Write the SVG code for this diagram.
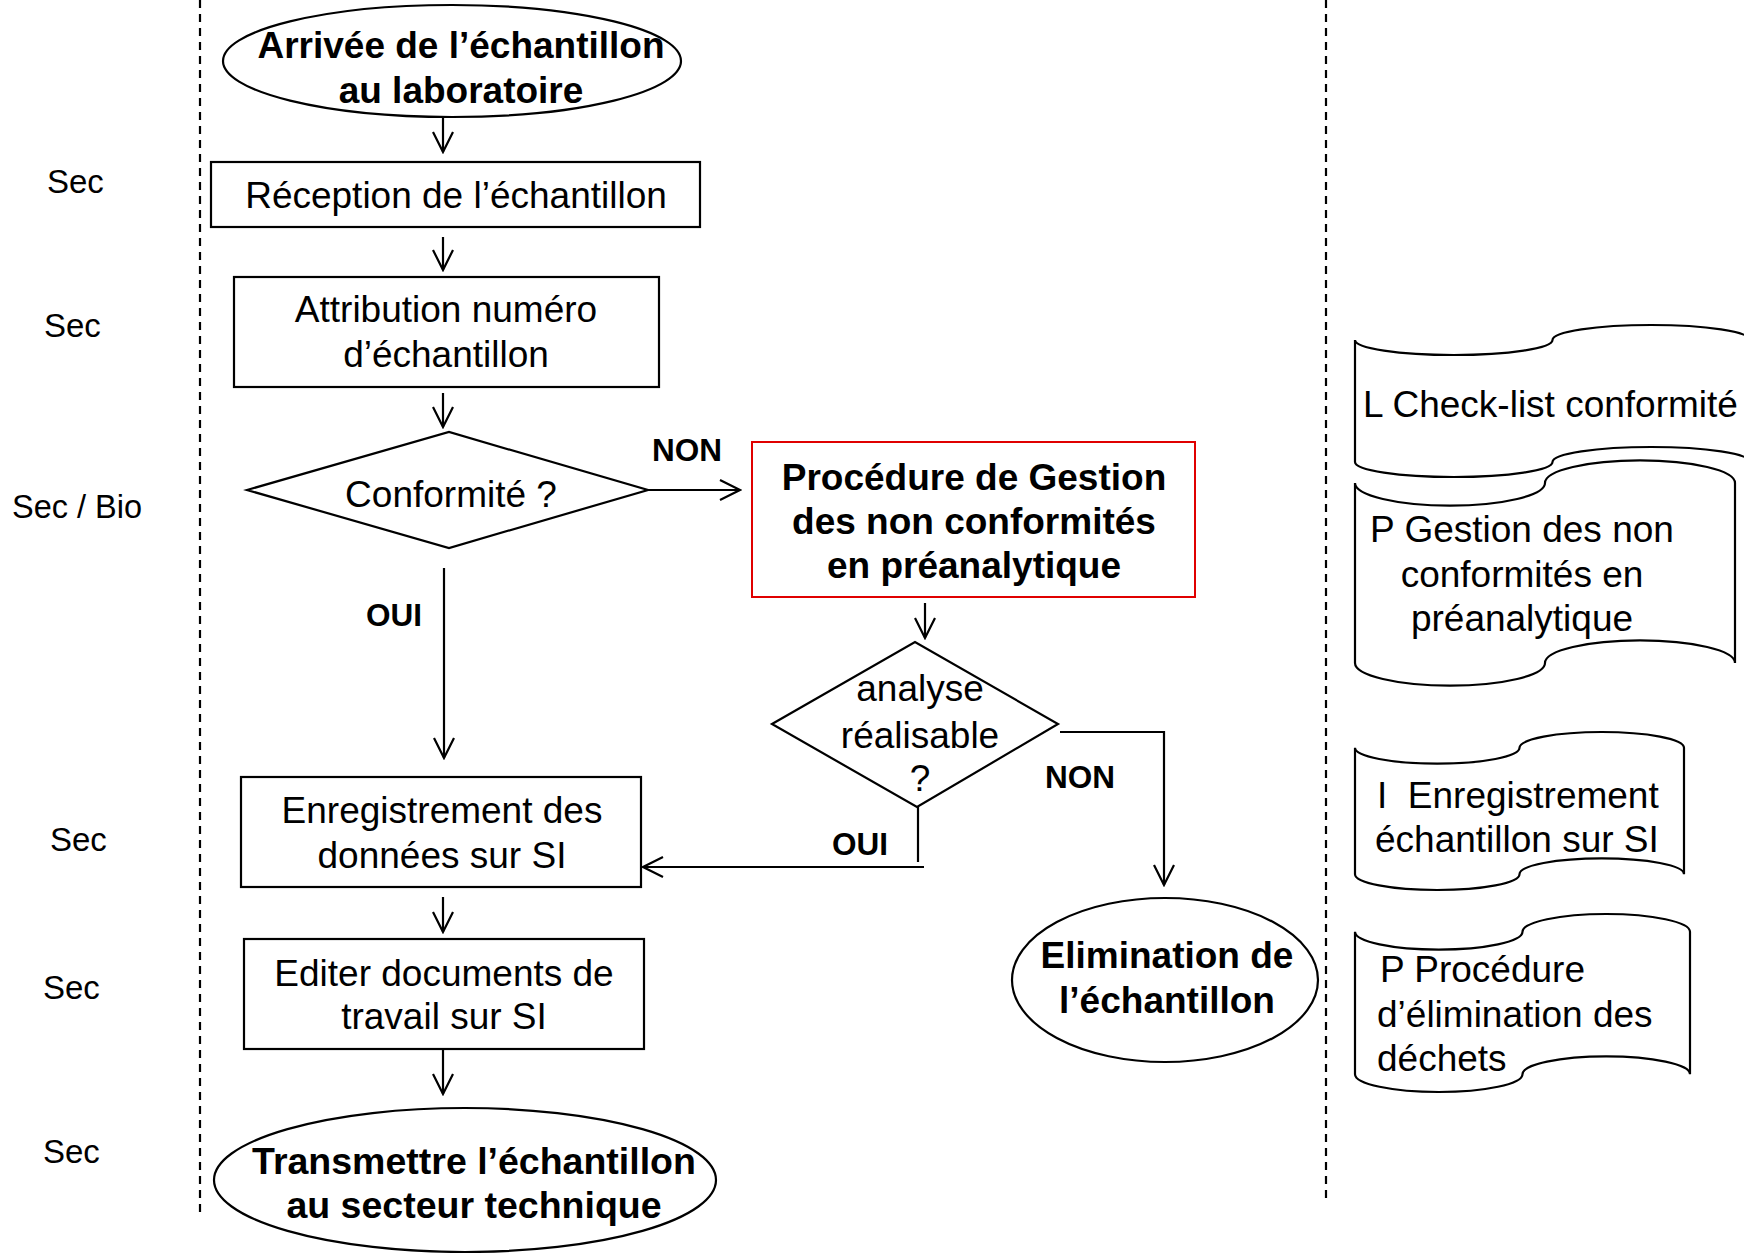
<svg xmlns="http://www.w3.org/2000/svg" width="1744" height="1253" viewBox="0 0 1744 1253">
<style>
text{font-family:"Liberation Sans",Arial,sans-serif;fill:#000}
.r{font-size:37px}
.b{font-size:37px;font-weight:bold}
.lbl{font-size:31.5px;font-weight:bold}
.sec{font-size:33px}
.m{text-anchor:middle}
.shape{fill:#fff;stroke:#000;stroke-width:2.2}
.conn{fill:none;stroke:#000;stroke-width:2.2}
.dash{fill:none;stroke:#000;stroke-width:2.2;stroke-dasharray:8 6}
</style>
<defs>
<marker id="arr" markerUnits="userSpaceOnUse" markerWidth="24" markerHeight="24" viewBox="-22 -12 24 24" refX="0" refY="0" orient="auto">
<path d="M-20,-10 L0,0 L-20,10" fill="none" stroke="#000" stroke-width="2.2"/>
</marker>
</defs>
<rect width="1744" height="1253" fill="#fff"/>
<g id="lanes">
<line class="dash" x1="200" y1="0" x2="200" y2="1212"/>
<line class="dash" x1="1326" y1="0" x2="1326" y2="1198"/>
</g>
<g id="roles">
<text class="sec" x="47" y="193">Sec</text>
<text class="sec" x="44" y="337">Sec</text>
<text class="sec" x="12" y="518" style="font-size:32.5px">Sec / Bio</text>
<text class="sec" x="50" y="851">Sec</text>
<text class="sec" x="43" y="999">Sec</text>
<text class="sec" x="43" y="1163">Sec</text>
</g>
<g id="connectors">
<line class="conn" x1="443" y1="117" x2="443" y2="152" marker-end="url(#arr)"/>
<line class="conn" x1="443" y1="237" x2="443" y2="270" marker-end="url(#arr)"/>
<line class="conn" x1="443" y1="393" x2="443" y2="427" marker-end="url(#arr)"/>
<line class="conn" x1="648" y1="490" x2="740" y2="490" marker-end="url(#arr)"/>
<line class="conn" x1="444" y1="568" x2="444" y2="758" marker-end="url(#arr)"/>
<line class="conn" x1="925" y1="603" x2="925" y2="638" marker-end="url(#arr)"/>
<path class="conn" d="M1060,732 H1164 V885" marker-end="url(#arr)"/>
<line class="conn" x1="918" y1="807" x2="918" y2="862"/>
<line class="conn" x1="924" y1="867" x2="643" y2="867" marker-end="url(#arr)"/>
<line class="conn" x1="443" y1="897" x2="443" y2="932" marker-end="url(#arr)"/>
<line class="conn" x1="443" y1="1049" x2="443" y2="1094" marker-end="url(#arr)"/>
<text class="lbl" x="652" y="461">NON</text>
<text class="lbl" x="366" y="626">OUI</text>
<text class="lbl" x="1045" y="788">NON</text>
<text class="lbl" x="832" y="855">OUI</text>
</g>
<g id="arrivee">
<ellipse class="shape" cx="452" cy="61" rx="229" ry="56"/>
<text class="b m" x="461" y="58">Arrivée de l’échantillon</text>
<text class="b m" x="461" y="103">au laboratoire</text>
</g>
<g id="reception">
<rect class="shape" x="211" y="162" width="489" height="65"/>
<text class="r m" x="456" y="208">Réception de l’échantillon</text>
</g>
<g id="attribution">
<rect class="shape" x="234" y="277" width="425" height="110"/>
<text class="r m" x="446" y="322">Attribution numéro</text>
<text class="r m" x="446" y="367">d’échantillon</text>
</g>
<g id="conformite">
<polygon class="shape" points="247,490 449,432 648,490 449,548"/>
<text class="r m" x="451" y="507">Conformité ?</text>
</g>
<g id="procedure">
<rect x="752" y="442" width="443" height="155" fill="#fff" stroke="#e00000" stroke-width="2"/>
<text class="b m" x="974" y="490">Procédure de Gestion</text>
<text class="b m" x="974" y="534">des non conformités</text>
<text class="b m" x="974" y="578">en préanalytique</text>
</g>
<g id="analyse">
<polygon class="shape" points="772,724 915,642 1058,724 917,807"/>
<text class="r m" x="920" y="701">analyse</text>
<text class="r m" x="920" y="748">réalisable</text>
<text class="r m" x="920" y="791">?</text>
</g>
<g id="enregistrement">
<rect class="shape" x="241" y="777" width="400" height="110"/>
<text class="r m" x="442" y="823">Enregistrement des</text>
<text class="r m" x="442" y="868">données sur SI</text>
</g>
<g id="editer">
<rect class="shape" x="244" y="939" width="400" height="110"/>
<text class="r m" x="444" y="986">Editer documents de</text>
<text class="r m" x="444" y="1029">travail sur SI</text>
</g>
<g id="transmettre">
<ellipse class="shape" cx="465" cy="1180" rx="251" ry="72"/>
<text class="b m" x="474" y="1174" style="font-size:37.5px">Transmettre l’échantillon</text>
<text class="b m" x="474" y="1218" style="font-size:37.5px">au secteur technique</text>
</g>
<g id="elimination">
<ellipse class="shape" cx="1165" cy="980" rx="153" ry="82"/>
<text class="b m" x="1167" y="968">Elimination de</text>
<text class="b m" x="1167" y="1013">l’échantillon</text>
</g>
<g id="doc-checklist">
<path class="shape" d="M1355,340 A98.75,15 0 0 0 1552.5,340 A98.75,15 0 0 1 1750,340 V462 A98.75,15 0 0 0 1552.5,462 A98.75,15 0 0 1 1355,462 Z"/>
<text class="r" x="1363" y="417">L Check-list conformité</text>
</g>
<g id="doc-gestion">
<path class="shape" d="M1355,483 A95,22.6 0 0 0 1545,483 A95,22.6 0 0 1 1735,483 V663 A95,22.6 0 0 0 1545,663 A95,22.6 0 0 1 1355,663 Z"/>
<text class="r m" x="1522" y="542">P Gestion des non</text>
<text class="r m" x="1522" y="587">conformités en</text>
<text class="r m" x="1522" y="631">préanalytique</text>
</g>
<g id="doc-enregistrement">
<path class="shape" d="M1355,747.8 A82.25,15.8 0 0 0 1519.5,747.8 A82.25,15.8 0 0 1 1684,747.8 V874.2 A82.25,15.8 0 0 0 1519.5,874.2 A82.25,15.8 0 0 1 1355,874.2 Z"/>
<text class="r" x="1377" y="808" xml:space="preserve">I  Enregistrement</text>
<text class="r" x="1375" y="852">échantillon sur SI</text>
</g>
<g id="doc-elimination">
<path class="shape" d="M1355,931.8 A83.75,17.8 0 0 0 1522.5,931.8 A83.75,17.8 0 0 1 1690,931.8 V1074.2 A83.75,17.8 0 0 0 1522.5,1074.2 A83.75,17.8 0 0 1 1355,1074.2 Z"/>
<text class="r" x="1380" y="982">P Procédure</text>
<text class="r" x="1377" y="1027">d’élimination des</text>
<text class="r" x="1377" y="1071">déchets</text>
</g>
</svg>
